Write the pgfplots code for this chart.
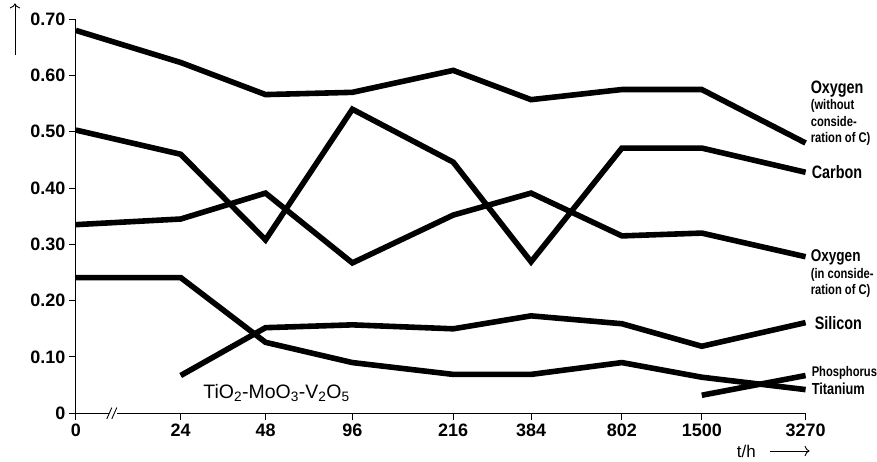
\documentclass[border=0pt]{standalone}
\usepackage{pgfplots}
\pgfplotsset{compat=1.18}
\usetikzlibrary{arrows.meta}
\usepackage{fontspec}
\setmainfont{Liberation Sans}
\newfontfamily\cond[FakeStretch=0.8]{Liberation Sans}
\begin{document}
\begin{tikzpicture}
\begin{axis}[
  x=1pt, y=564pt,
  xmin=76, xmax=807, ymin=0, ymax=0.70,
  axis lines*=left,
  axis line style={line width=1.1pt},
  clip=false,
  tick align=outside,
  major tick length=7pt,
  tick style={line width=1pt, black},
  xtick={76,181,266,353,454,532,623,703,807},
  xticklabels={0,24,48,96,216,384,802,1500,3270},
  ytick={0,0.1,0.2,0.3,0.4,0.5,0.6,0.7},
  yticklabels={0,0.10,0.20,0.30,0.40,0.50,0.60,0.70},
  tick label style={font=\fontsize{18}{20}\selectfont\bfseries},
  thick line/.style={black, line width=5.6pt, mark=none, line join=miter, solid},
]
% Oxygen (without consideration of C)
\addplot[thick line] coordinates {(76,0.680) (181,0.623) (266,0.566) (353,0.570) (454,0.609) (532,0.557) (623,0.575) (703,0.575) (807,0.480)};
% Carbon
\addplot[thick line] coordinates {(76,0.503) (181,0.460) (266,0.308) (353,0.540) (454,0.446) (532,0.269) (623,0.471) (703,0.471) (807,0.428)};
% Oxygen (in consideration of C)
\addplot[thick line] coordinates {(76,0.335) (181,0.345) (266,0.391) (353,0.267) (454,0.352) (532,0.391) (623,0.315) (703,0.320) (807,0.278)};
% Silicon
\addplot[thick line] coordinates {(181,0.067) (266,0.152) (353,0.157) (454,0.150) (532,0.173) (623,0.159) (703,0.119) (807,0.161)};
% Titanium
\addplot[thick line] coordinates {(76,0.241) (181,0.241) (266,0.126) (353,0.090) (454,0.069) (532,0.069) (623,0.090) (703,0.064) (807,0.042)};
% Phosphorus
\addplot[thick line] coordinates {(703,0.032) (807,0.067)};

% axis break
\fill[white] (axis cs:109,-0.012) rectangle (axis cs:117,0.012);
\draw[line width=0.9pt] (axis cs:107,-0.010) -- (axis cs:112,0.010);
\draw[line width=0.9pt] (axis cs:112,-0.010) -- (axis cs:117,0.010);

% series labels
\node[anchor=west, inner sep=0pt, font=\cond\bfseries\fontsize{18}{18}\selectfont] at (axis cs:812,0.576) {Oxygen};
\node[anchor=west, inner sep=0pt, font=\cond\bfseries\fontsize{14}{14}\selectfont] at (axis cs:812,0.546) {(without};
\node[anchor=west, inner sep=0pt, font=\cond\bfseries\fontsize{14}{14}\selectfont] at (axis cs:812,0.518) {conside-};
\node[anchor=west, inner sep=0pt, font=\cond\bfseries\fontsize{14}{14}\selectfont] at (axis cs:812,0.487) {ration of C)};
\node[anchor=west, inner sep=0pt, font=\cond\bfseries\fontsize{18}{18}\selectfont] at (axis cs:813,0.429) {Carbon};
\node[anchor=west, inner sep=0pt, font=\cond\bfseries\fontsize{17}{17}\selectfont] at (axis cs:812,0.277) {Oxygen};
\node[anchor=west, inner sep=0pt, font=\cond\bfseries\fontsize{14}{14}\selectfont] at (axis cs:812,0.246) {(in conside-};
\node[anchor=west, inner sep=0pt, font=\cond\bfseries\fontsize{14}{14}\selectfont] at (axis cs:812,0.218) {ration of C)};
\node[anchor=west, inner sep=0pt, font=\cond\bfseries\fontsize{18}{18}\selectfont] at (axis cs:816,0.161) {Silicon};
\node[anchor=west, inner sep=0pt, font=\cond\bfseries\fontsize{14}{14}\selectfont] at (axis cs:813,0.071) {Phosphorus};
\node[anchor=west, inner sep=0pt, font=\cond\bfseries\fontsize{16}{16}\selectfont] at (axis cs:813,0.044) {Titanium};

\node[inner sep=0pt, font=\fontsize{19.5}{20}\selectfont] at (axis cs:277,0.036) {TiO\textsubscript{2}-MoO\textsubscript{3}-V\textsubscript{2}O\textsubscript{5}};

% axis arrows / labels
\draw[line width=0.9pt, -{To[length=5pt]}] (axis cs:15,0.636) -- (axis cs:15,0.728);
\node[anchor=west, inner sep=0pt, font=\fontsize{17}{17}\selectfont] at (axis cs:738,-0.067) {t/h};
\draw[line width=0.9pt, -{To[length=5pt]}] (axis cs:771,-0.067) -- (axis cs:811,-0.067);

% bounding box
\path (axis cs:0,0.734) rectangle (axis cs:877,-0.085);
\end{axis}
\end{tikzpicture}
\end{document}
